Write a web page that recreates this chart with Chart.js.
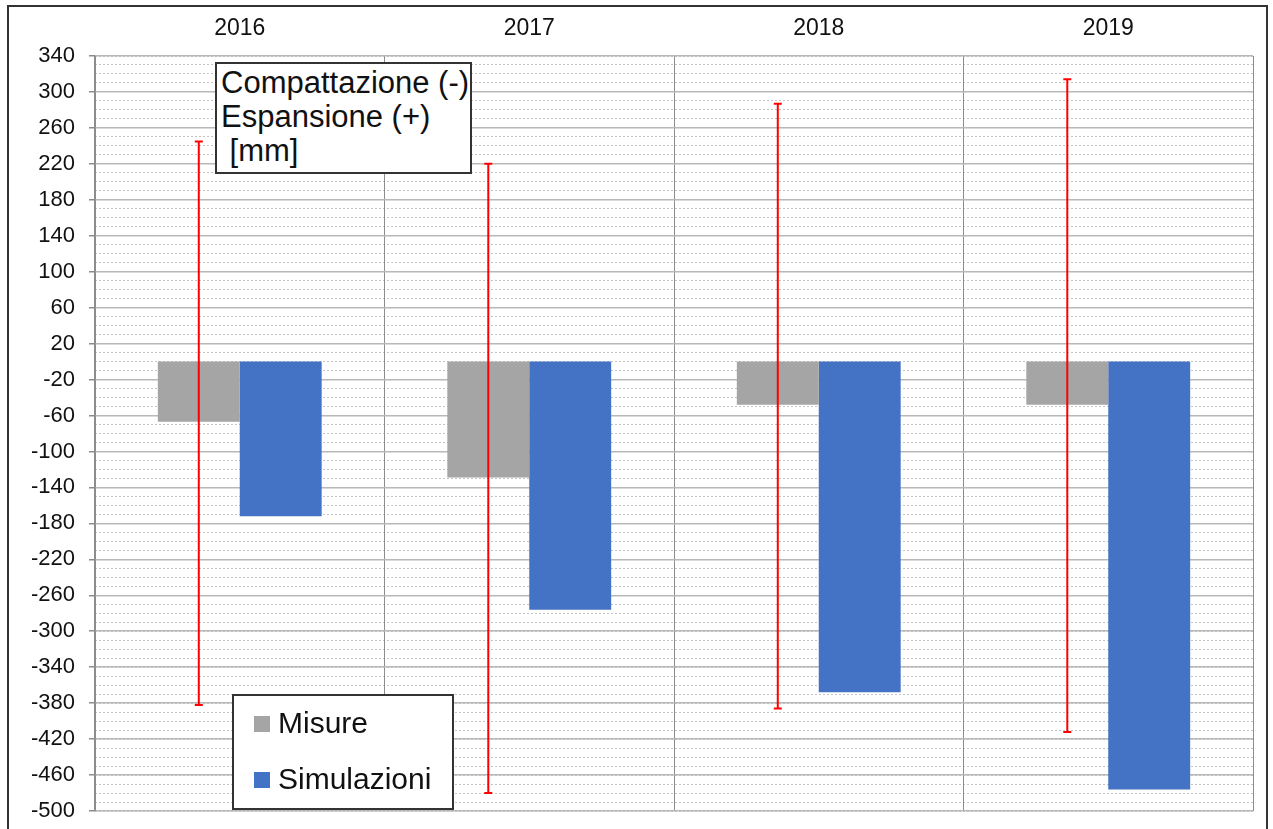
<!DOCTYPE html>
<html>
<head>
<meta charset="utf-8">
<script src="https://cdn.jsdelivr.net/npm/chart.js@4/dist/chart.umd.min.js"></script>
<style>
  body { margin: 0; background: #fff; font-family: "Liberation Sans", Arial, sans-serif; }
  #wrap { position: relative; width: 1273px; height: 829px; }
  #frame { position: absolute; left: 7px; top: 5px; width: 1257px; height: 840px; border: 2px solid #333; pointer-events: none; }
  .box { position: absolute; background: #fff; border: 2px solid #333; color: #111; }
  #note { left: 215px; top: 62px; width: 253px; height: 106px; font-size: 31px; line-height: 34px; padding-top: 2px; }
  #note div { padding-left: 4px; white-space: pre; }
  #legend { left: 232px; top: 694px; width: 218px; height: 112px; font-size: 30px; }
  .item { position: absolute; left: 20px; white-space: nowrap; }
  .item span { display: inline-block; width: 16px; height: 16px; margin-right: 8px; vertical-align: 1px; }
</style>
</head>
<body>
<div id="wrap">
  <canvas id="chart" width="1273" height="829"></canvas>
  <div id="frame"></div>
  <div class="box" id="note"><div>Compattazione (-)</div><div>Espansione (+)</div><div> [mm]</div></div>
  <div class="box" id="legend">
    <div class="item" style="top:10px"><span style="background:#a5a5a5"></span>Misure</div>
    <div class="item" style="top:66px"><span style="background:#4472c4"></span>Simulazioni</div>
  </div>
</div>
<script>
// anni e valori (mm)
const years = ['2016', '2017', '2018', '2019'];
const misure = [-67, -129, -48, -48];
const simulazioni = [-172, -276, -368, -476];
const errHigh = [245, 220, 287, 314];
const errLow = [-382, -480, -386, -412];
const yTicks = [340, 300, 260, 220, 180, 140, 100, 60, 20, -20, -60, -100, -140, -180, -220, -260, -300, -340, -380, -420, -460, -500];

// barre d'errore rosse centrate sulle barre "Misure"
const errorBars = {
    id: 'errorBars',
    afterDatasetsDraw(chart) {
        const ctx = chart.ctx;
        const y = chart.scales.y;
        const bars = chart.getDatasetMeta(0).data;
        ctx.save();
        ctx.strokeStyle = '#ff0000';
        ctx.lineWidth = 2;
        bars.forEach((bar, i) => {
            const top = y.getPixelForValue(errHigh[i]);
            const bot = y.getPixelForValue(errLow[i]);
            ctx.beginPath();
            ctx.moveTo(bar.x, top); ctx.lineTo(bar.x, bot);
            ctx.moveTo(bar.x - 4, top); ctx.lineTo(bar.x + 4, top);
            ctx.moveTo(bar.x - 4, bot); ctx.lineTo(bar.x + 4, bot);
            ctx.stroke();
        });
        ctx.restore();
    }
};

new Chart(document.getElementById('chart'), {
    type: 'bar',
    data: {
        labels: years,
        datasets: [
            { label: 'Misure', data: misure, backgroundColor: '#a5a5a5' },
            { label: 'Simulazioni', data: simulazioni, backgroundColor: '#4472c4' }
        ]
    },
    options: {
        responsive: false,
        animation: false,
        categoryPercentage: 0.566,
        barPercentage: 1.0,
        layout: { padding: { left: 8, top: 6, right: 20, bottom: 18 } },
        plugins: { legend: { display: false }, tooltip: { enabled: false } },
        scales: {
            x: {
                position: 'top',
                afterFit: s => { s.height = 50; },
                grid: { color: '#8c8c8c', lineWidth: 1, drawTicks: false },
                border: { display: false },
                ticks: { color: '#111', font: { family: 'Liberation Sans', size: 23 }, padding: 14 }
            },
            y: {
                min: -500, max: 340,
                afterFit: s => { s.width = 87; s.paddingTop = 0; s.paddingBottom = 0; },
                afterBuildTicks: s => { s.ticks = yTicks.map(v => ({ value: v })); },
                grid: {
                    color: c => c.tick && c.tick.value === 0 ? '#808080' : '#b8b8b8',
                    lineWidth: 1.5, tickLength: 6, tickColor: '#8c8c8c'
                },
                border: { color: '#8c8c8c', width: 1.5 },
                ticks: { color: '#111', font: { family: 'Liberation Sans', size: 22 }, padding: 14 }
            },
            y2: {
                position: 'right',
                min: -500, max: 340,
                afterFit: s => { s.width = 0; s.paddingTop = 0; s.paddingBottom = 0; },
                ticks: { display: false, stepSize: 10 },
                grid: { color: '#c4c4c4', lineWidth: 1, drawTicks: false, z: -2 },
                border: { display: false, dash: [2, 2] }
            }
        }
    },
    plugins: [errorBars]
});
</script>
</body>
</html>
